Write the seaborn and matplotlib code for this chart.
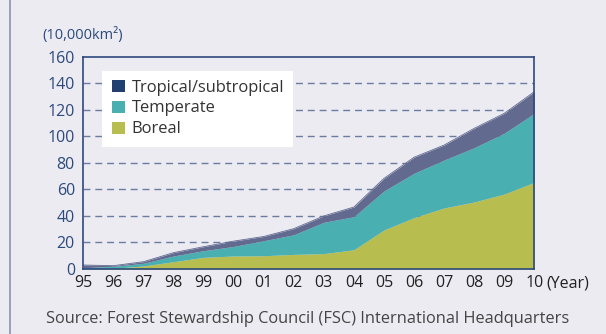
import matplotlib
matplotlib.use("Agg")
import matplotlib.pyplot as plt
from matplotlib.patches import Patch, Rectangle
from matplotlib.lines import Line2D
import seaborn as sns
import numpy as np
import pandas as pd

# FSC-certified forest area by forest type (10,000 km²)
years = ["95", "96", "97", "98", "99", "00", "01", "02",
         "03", "04", "05", "06", "07", "08", "09", "10"]
boreal = [0.0, 0.5, 2.3, 5.5, 8.8, 9.8, 10.0, 11.0,
          11.6, 14.5, 29.4, 38.7, 46.0, 50.5, 56.5, 65.3]
temperate = [1.0, 1.5, 2.0, 4.3, 5.0, 7.2, 11.3, 14.8,
             23.6, 24.9, 29.4, 33.4, 36.1, 40.9, 45.8, 52.0]
tropical = [2.0, 0.5, 1.2, 2.5, 3.0, 4.0, 3.2, 4.6,
            4.8, 7.3, 9.5, 12.1, 11.3, 14.6, 15.0, 16.3]
series_names = ["Tropical/subtropical", "Temperate", "Boreal"]
y_ticks = [0, 20, 40, 60, 80, 100, 120, 140, 160]

BG = "#ECEBF2"
NAVY = "#2C4A7C"
C_BOREAL = "#B8BD4F"
C_TEMP = "#49AFB1"
C_TROP_AREA = "#626A8F"
C_TROP_KEY = "#22406F"
TEXT = "#333333"

W, H = 606, 334

sns.set_theme(style="white")
plt.rcParams["font.family"] = ["Open Sans", "DejaVu Sans"]

df = pd.DataFrame({"x": np.arange(len(years)), "Boreal": boreal,
                   "Temperate": temperate, "Tropical": tropical})

fig = plt.figure(figsize=(W / 100, H / 100), dpi=100, facecolor=BG)
ax = fig.add_axes([83.3 / W, 1 - 269 / H, 451 / W, 212.3 / H])
ax.set_facecolor(BG)

# dashed horizontal guides behind the areas
for v in y_ticks[1:-1]:
    ax.axhline(v, color="#6A7CA0", lw=1.0, ls=(0, (5, 3.5)), zorder=0.5)

ax.stackplot(df["x"], df["Boreal"], df["Temperate"], df["Tropical"],
             colors=[C_BOREAL, C_TEMP, C_TROP_AREA], lw=0, zorder=2)
top = df["Boreal"] + df["Temperate"] + df["Tropical"]
sns.lineplot(x=df["x"], y=top, ax=ax, color=C_TROP_AREA, lw=0.6, zorder=2.5)

ax.set_xlim(0, len(years) - 1)
ax.set_ylim(0, 160)
ax.set_xticks(df["x"])
ax.set_xticklabels(years)
ax.set_yticks(y_ticks)
ax.set_yticklabels([str(v) for v in y_ticks])
ax.set_xlabel("")
ax.set_ylabel("")

ax.tick_params(axis="x", direction="in", length=6, width=1, color=NAVY,
               labelsize=11.5, labelcolor="#222222", pad=4)
ax.tick_params(axis="y", length=0, labelsize=11.5, labelcolor=NAVY, pad=6)
for s in ax.spines.values():
    s.set_color(NAVY)
    s.set_linewidth(1.2)
    s.set_visible(True)
    s.set_zorder(3)

# white legend panel
fig.add_artist(Rectangle((102 / W, 1 - 146.5 / H), 190.7 / W, 75 / H,
                         transform=fig.transFigure, facecolor="white",
                         edgecolor="none", zorder=3.5))

handles = [Patch(facecolor=C_TROP_KEY, edgecolor="none"),
           Patch(facecolor=C_TEMP, edgecolor="none"),
           Patch(facecolor=C_BOREAL, edgecolor="none")]
leg = fig.legend(handles, series_names, loc="upper left",
                 bbox_to_anchor=(112.3 / W, 1 - 79.5 / H), frameon=False,
                 fontsize=11.9, handlelength=0.76, handleheight=0.76,
                 handletextpad=0.4, labelspacing=0.3, borderpad=0,
                 borderaxespad=0)
for t in leg.get_texts():
    t.set_color(TEXT)
leg.set_zorder(4)

fig.text(42 / W, 1 - 35 / H, "(10,000km²)", color=NAVY, fontsize=10.5,
         ha="left", va="center")
fig.text(546 / W, 1 - 283 / H, "(Year)", color="#222222", fontsize=11.5,
         ha="left", va="center")
fig.text(46 / W, 1 - 319 / H,
         "Source: Forest Stewardship Council (FSC) International Headquarters",
         color="#444444", fontsize=11.8, ha="left", va="center")

# panel border on the left edge
fig.add_artist(Line2D([9.5 / W, 9.5 / W], [0, 1], color="#8A93AE", lw=1.2))

fig.savefig("out.png", dpi=100, facecolor=BG)
